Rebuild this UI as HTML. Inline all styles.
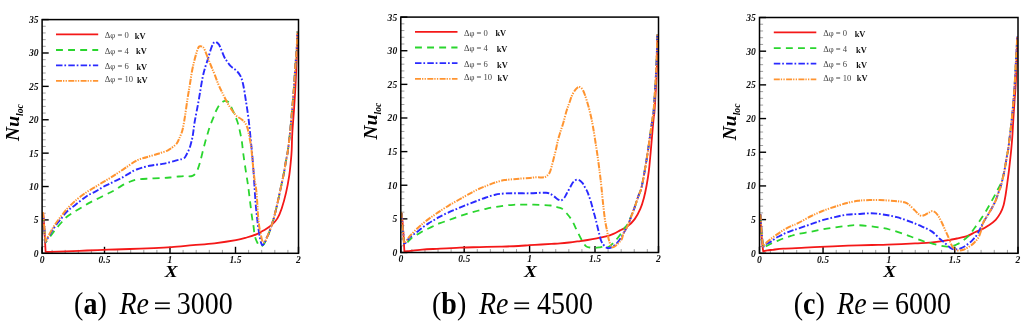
<!DOCTYPE html>
<html><head><meta charset="utf-8"><style>
html,body{margin:0;padding:0;background:#fff;}
body{width:1024px;height:326px;overflow:hidden;}
svg{display:block;filter:blur(0.25px);}
text{font-family:"Liberation Serif",serif;}
.tl{font-size:9.6px;font-weight:bold;font-style:italic;fill:#111;}
.lg{font-size:8.6px;fill:#444;}
.kv{font-size:8.4px;font-weight:bold;fill:#111;}
.yl{font-size:19.5px;font-weight:bold;font-style:italic;fill:#000;}
.sub{font-size:9.6px;}
.xl{font-size:16.5px;font-weight:bold;font-style:italic;fill:#000;}
.cap{font-size:28px;fill:#000;}
</style></head><body>
<svg width="1024" height="326" viewBox="0 0 1024 326">
<rect width="1024" height="326" fill="#fff"/>
<line x1="42.10" y1="246.62" x2="45.70" y2="246.62" stroke="#888" stroke-width="0.8"/>
<line x1="42.10" y1="239.95" x2="45.70" y2="239.95" stroke="#888" stroke-width="0.8"/>
<line x1="42.10" y1="233.27" x2="45.70" y2="233.27" stroke="#888" stroke-width="0.8"/>
<line x1="42.10" y1="226.59" x2="45.70" y2="226.59" stroke="#888" stroke-width="0.8"/>
<line x1="42.10" y1="213.24" x2="45.70" y2="213.24" stroke="#888" stroke-width="0.8"/>
<line x1="42.10" y1="206.56" x2="45.70" y2="206.56" stroke="#888" stroke-width="0.8"/>
<line x1="42.10" y1="199.88" x2="45.70" y2="199.88" stroke="#888" stroke-width="0.8"/>
<line x1="42.10" y1="193.21" x2="45.70" y2="193.21" stroke="#888" stroke-width="0.8"/>
<line x1="42.10" y1="179.85" x2="45.70" y2="179.85" stroke="#888" stroke-width="0.8"/>
<line x1="42.10" y1="173.17" x2="45.70" y2="173.17" stroke="#888" stroke-width="0.8"/>
<line x1="42.10" y1="166.50" x2="45.70" y2="166.50" stroke="#888" stroke-width="0.8"/>
<line x1="42.10" y1="159.82" x2="45.70" y2="159.82" stroke="#888" stroke-width="0.8"/>
<line x1="42.10" y1="146.47" x2="45.70" y2="146.47" stroke="#888" stroke-width="0.8"/>
<line x1="42.10" y1="139.79" x2="45.70" y2="139.79" stroke="#888" stroke-width="0.8"/>
<line x1="42.10" y1="133.11" x2="45.70" y2="133.11" stroke="#888" stroke-width="0.8"/>
<line x1="42.10" y1="126.43" x2="45.70" y2="126.43" stroke="#888" stroke-width="0.8"/>
<line x1="42.10" y1="113.08" x2="45.70" y2="113.08" stroke="#888" stroke-width="0.8"/>
<line x1="42.10" y1="106.40" x2="45.70" y2="106.40" stroke="#888" stroke-width="0.8"/>
<line x1="42.10" y1="99.73" x2="45.70" y2="99.73" stroke="#888" stroke-width="0.8"/>
<line x1="42.10" y1="93.05" x2="45.70" y2="93.05" stroke="#888" stroke-width="0.8"/>
<line x1="42.10" y1="79.69" x2="45.70" y2="79.69" stroke="#888" stroke-width="0.8"/>
<line x1="42.10" y1="73.02" x2="45.70" y2="73.02" stroke="#888" stroke-width="0.8"/>
<line x1="42.10" y1="66.34" x2="45.70" y2="66.34" stroke="#888" stroke-width="0.8"/>
<line x1="42.10" y1="59.66" x2="45.70" y2="59.66" stroke="#888" stroke-width="0.8"/>
<line x1="42.10" y1="46.31" x2="45.70" y2="46.31" stroke="#888" stroke-width="0.8"/>
<line x1="42.10" y1="39.63" x2="45.70" y2="39.63" stroke="#888" stroke-width="0.8"/>
<line x1="42.10" y1="32.95" x2="45.70" y2="32.95" stroke="#888" stroke-width="0.8"/>
<line x1="42.10" y1="26.28" x2="45.70" y2="26.28" stroke="#888" stroke-width="0.8"/>
<line x1="42.10" y1="253.30" x2="48.70" y2="253.30" stroke="#000" stroke-width="1.4"/>
<text x="38.50" y="256.70" class="tl" text-anchor="end">0</text>
<line x1="42.10" y1="219.91" x2="48.70" y2="219.91" stroke="#000" stroke-width="1.4"/>
<text x="38.50" y="223.31" class="tl" text-anchor="end">5</text>
<line x1="42.10" y1="186.53" x2="48.70" y2="186.53" stroke="#000" stroke-width="1.4"/>
<text x="38.50" y="189.93" class="tl" text-anchor="end">10</text>
<line x1="42.10" y1="153.14" x2="48.70" y2="153.14" stroke="#000" stroke-width="1.4"/>
<text x="38.50" y="156.54" class="tl" text-anchor="end">15</text>
<line x1="42.10" y1="119.76" x2="48.70" y2="119.76" stroke="#000" stroke-width="1.4"/>
<text x="38.50" y="123.16" class="tl" text-anchor="end">20</text>
<line x1="42.10" y1="86.37" x2="48.70" y2="86.37" stroke="#000" stroke-width="1.4"/>
<text x="38.50" y="89.77" class="tl" text-anchor="end">25</text>
<line x1="42.10" y1="52.99" x2="48.70" y2="52.99" stroke="#000" stroke-width="1.4"/>
<text x="38.50" y="56.39" class="tl" text-anchor="end">30</text>
<line x1="42.10" y1="19.60" x2="48.70" y2="19.60" stroke="#000" stroke-width="1.4"/>
<text x="38.50" y="23.00" class="tl" text-anchor="end">35</text>
<line x1="42.10" y1="253.30" x2="42.10" y2="246.80" stroke="#000" stroke-width="1.4"/>
<text x="42.10" y="262.80" class="tl" text-anchor="middle">0</text>
<line x1="52.10" y1="253.30" x2="52.10" y2="249.90" stroke="#888" stroke-width="0.8"/>
<line x1="65.20" y1="253.30" x2="65.20" y2="249.90" stroke="#888" stroke-width="0.8"/>
<line x1="78.30" y1="253.30" x2="78.30" y2="249.90" stroke="#888" stroke-width="0.8"/>
<line x1="91.40" y1="253.30" x2="91.40" y2="249.90" stroke="#888" stroke-width="0.8"/>
<line x1="104.50" y1="253.30" x2="104.50" y2="246.80" stroke="#000" stroke-width="1.4"/>
<text x="104.50" y="262.80" class="tl" text-anchor="middle">0.5</text>
<line x1="117.60" y1="253.30" x2="117.60" y2="249.90" stroke="#888" stroke-width="0.8"/>
<line x1="130.70" y1="253.30" x2="130.70" y2="249.90" stroke="#888" stroke-width="0.8"/>
<line x1="143.80" y1="253.30" x2="143.80" y2="249.90" stroke="#888" stroke-width="0.8"/>
<line x1="156.90" y1="253.30" x2="156.90" y2="249.90" stroke="#888" stroke-width="0.8"/>
<line x1="170.00" y1="253.30" x2="170.00" y2="246.80" stroke="#000" stroke-width="1.4"/>
<text x="170.00" y="262.80" class="tl" text-anchor="middle">1</text>
<line x1="183.10" y1="253.30" x2="183.10" y2="249.90" stroke="#888" stroke-width="0.8"/>
<line x1="196.20" y1="253.30" x2="196.20" y2="249.90" stroke="#888" stroke-width="0.8"/>
<line x1="209.30" y1="253.30" x2="209.30" y2="249.90" stroke="#888" stroke-width="0.8"/>
<line x1="222.40" y1="253.30" x2="222.40" y2="249.90" stroke="#888" stroke-width="0.8"/>
<line x1="235.50" y1="253.30" x2="235.50" y2="246.80" stroke="#000" stroke-width="1.4"/>
<text x="235.50" y="262.80" class="tl" text-anchor="middle">1.5</text>
<line x1="248.60" y1="253.30" x2="248.60" y2="249.90" stroke="#888" stroke-width="0.8"/>
<line x1="261.70" y1="253.30" x2="261.70" y2="249.90" stroke="#888" stroke-width="0.8"/>
<line x1="274.80" y1="253.30" x2="274.80" y2="249.90" stroke="#888" stroke-width="0.8"/>
<line x1="287.90" y1="253.30" x2="287.90" y2="249.90" stroke="#888" stroke-width="0.8"/>
<line x1="298.50" y1="253.30" x2="298.50" y2="246.80" stroke="#000" stroke-width="1.4"/>
<text x="298.50" y="262.80" class="tl" text-anchor="middle">2</text>
<clipPath id="clipa"><rect x="42.10" y="19.60" width="256.40" height="233.70"/></clipPath>
<g clip-path="url(#clipa)" fill="none" stroke-linejoin="round">
<path d="M43.30,213.50 C43.48,216.25 44.02,223.62 44.40,230.00 C44.78,236.38 45.40,248.17 45.60,251.80 C46.33,251.82 46.68,251.97 50.00,251.90 C53.32,251.83 59.33,251.63 65.50,251.40 C71.67,251.17 79.85,250.78 87.00,250.50 C94.15,250.22 101.25,249.95 108.40,249.70 C115.55,249.45 122.30,249.27 129.90,249.00 C137.50,248.73 147.07,248.42 154.00,248.10 C160.93,247.78 165.00,247.58 171.50,247.10 C178.00,246.62 185.85,245.83 193.00,245.20 C200.15,244.57 207.25,244.13 214.40,243.30 C221.55,242.47 230.52,241.17 235.90,240.20 C241.28,239.23 243.12,238.57 246.70,237.50 C250.28,236.43 254.52,235.02 257.40,233.80 C260.28,232.58 261.65,231.63 264.00,230.20 C266.35,228.77 269.27,227.17 271.50,225.20 C273.73,223.23 275.70,221.18 277.40,218.40 C279.10,215.62 280.27,212.75 281.70,208.50 C283.13,204.25 284.75,198.35 286.00,192.90 C287.25,187.45 288.38,181.17 289.20,175.80 C290.02,170.43 290.48,165.00 290.90,160.70 C291.32,156.40 291.47,154.63 291.70,150.00 C291.93,145.37 291.92,139.58 292.30,132.90 C292.68,126.22 293.50,117.18 294.00,109.90 C294.50,102.62 294.93,95.85 295.30,89.20 C295.67,82.55 295.92,76.53 296.20,70.00 C296.48,63.47 296.77,56.17 297.00,50.00 C297.23,43.83 297.50,35.83 297.60,33.00" stroke="#f41818" stroke-width="1.80"/>
<path d="M42.80,214.00 C43.27,218.75 45.13,237.75 45.60,242.50 C46.23,241.67 48.10,239.22 49.40,237.50 C50.70,235.78 52.05,233.95 53.40,232.20 C54.75,230.45 56.08,228.70 57.50,227.00 C58.92,225.30 60.48,223.58 61.90,222.00 C63.32,220.42 64.57,218.80 66.00,217.50 C67.43,216.20 69.00,215.22 70.50,214.20 C72.00,213.18 73.10,212.57 75.00,211.40 C76.90,210.23 79.60,208.58 81.90,207.20 C84.20,205.82 86.50,204.35 88.80,203.10 C91.10,201.85 93.40,200.85 95.70,199.70 C98.00,198.55 100.30,197.35 102.60,196.20 C104.90,195.05 107.43,193.83 109.50,192.80 C111.57,191.77 112.95,191.20 115.00,190.00 C117.05,188.80 119.55,186.88 121.80,185.60 C124.05,184.32 126.03,183.30 128.50,182.30 C130.97,181.30 133.10,180.22 136.60,179.60 C140.10,178.98 145.22,178.85 149.50,178.60 C153.78,178.35 158.88,178.28 162.30,178.10 C165.72,177.92 167.28,177.77 170.00,177.50 C172.72,177.23 175.90,176.77 178.60,176.50 C181.30,176.23 184.40,175.93 186.20,175.90 C188.00,175.87 188.35,176.32 189.40,176.30 C190.45,176.28 191.55,176.20 192.50,175.80 C193.45,175.40 194.25,174.92 195.10,173.90 C195.95,172.88 196.77,171.67 197.60,169.70 C198.43,167.73 199.27,165.05 200.10,162.10 C200.93,159.15 201.75,155.37 202.60,152.00 C203.45,148.63 204.35,145.00 205.20,141.90 C206.05,138.80 206.87,136.12 207.70,133.40 C208.53,130.68 209.22,128.32 210.20,125.60 C211.18,122.88 212.63,119.53 213.60,117.10 C214.57,114.67 215.08,112.95 216.00,111.00 C216.92,109.05 217.97,106.95 219.10,105.40 C220.23,103.85 221.73,102.45 222.80,101.70 C223.87,100.95 224.48,100.78 225.50,100.90 C226.52,101.02 227.93,101.38 228.90,102.40 C229.87,103.42 230.35,104.93 231.30,107.00 C232.25,109.07 233.65,112.55 234.60,114.80 C235.55,117.05 236.30,118.55 237.00,120.50 C237.70,122.45 238.25,124.37 238.80,126.50 C239.35,128.63 239.80,130.88 240.30,133.30 C240.80,135.72 241.28,137.47 241.80,141.00 C242.32,144.53 242.68,149.18 243.40,154.50 C244.12,159.82 245.33,167.82 246.10,172.90 C246.87,177.98 247.35,180.32 248.00,185.00 C248.65,189.68 249.33,195.67 250.00,201.00 C250.67,206.33 251.42,212.83 252.00,217.00 C252.58,221.17 253.03,222.83 253.50,226.00 C253.97,229.17 254.13,233.17 254.80,236.00 C255.47,238.83 256.55,241.25 257.50,243.00 C258.45,244.75 259.67,246.08 260.50,246.50 C261.33,246.92 261.83,246.05 262.50,245.50 C263.17,244.95 263.83,244.20 264.50,243.20 C265.17,242.20 265.83,240.95 266.50,239.50 C267.17,238.05 267.85,236.25 268.50,234.50 C269.15,232.75 269.73,231.00 270.40,229.00 C271.07,227.00 271.85,224.62 272.50,222.50 C273.15,220.38 273.48,219.45 274.30,216.30 C275.12,213.15 276.35,208.22 277.40,203.60 C278.45,198.98 279.53,193.60 280.60,188.60 C281.67,183.60 282.90,178.25 283.80,173.60 C284.70,168.95 285.35,164.30 286.00,160.70 C286.65,157.10 287.03,156.63 287.70,152.00 C288.37,147.37 289.23,140.30 290.00,132.90 C290.77,125.50 291.63,115.27 292.30,107.60 C292.97,99.93 293.48,94.00 294.00,86.90 C294.52,79.80 294.97,71.15 295.40,65.00 C295.83,58.85 296.25,55.58 296.60,50.00 C296.95,44.42 297.35,34.58 297.50,31.50" stroke="#2ad52e" stroke-width="1.80" stroke-dasharray="6.9 5.2"/>
<path d="M42.80,213.00 C43.25,217.83 45.05,237.17 45.50,242.00 C46.13,240.92 47.98,237.70 49.30,235.50 C50.62,233.30 52.03,230.88 53.40,228.80 C54.77,226.72 56.08,224.83 57.50,223.00 C58.92,221.17 60.48,219.55 61.90,217.80 C63.32,216.05 64.60,214.03 66.00,212.50 C67.40,210.97 68.80,209.82 70.30,208.60 C71.80,207.38 73.07,206.68 75.00,205.20 C76.93,203.72 79.60,201.43 81.90,199.70 C84.20,197.97 86.50,196.18 88.80,194.80 C91.10,193.42 93.40,192.67 95.70,191.40 C98.00,190.13 100.30,188.47 102.60,187.20 C104.90,185.93 107.43,184.83 109.50,183.80 C111.57,182.77 112.95,182.00 115.00,181.00 C117.05,180.00 119.55,179.00 121.80,177.80 C124.05,176.60 126.03,175.18 128.50,173.80 C130.97,172.42 133.10,170.83 136.60,169.50 C140.10,168.17 145.22,166.73 149.50,165.80 C153.78,164.87 158.88,164.50 162.30,163.90 C165.72,163.30 167.63,162.78 170.00,162.20 C172.37,161.62 174.52,160.93 176.50,160.40 C178.48,159.87 180.53,159.47 181.90,159.00 C183.27,158.53 183.90,158.40 184.70,157.60 C185.50,156.80 186.02,155.47 186.70,154.20 C187.38,152.93 188.17,151.50 188.80,150.00 C189.43,148.50 189.98,146.92 190.50,145.20 C191.02,143.48 191.48,141.55 191.90,139.70 C192.32,137.85 192.53,137.10 193.00,134.10 C193.47,131.10 193.80,127.03 194.70,121.70 C195.60,116.37 197.10,109.38 198.40,102.10 C199.70,94.82 201.32,83.97 202.50,78.00 C203.68,72.03 204.58,69.48 205.50,66.30 C206.42,63.12 207.17,61.57 208.00,58.90 C208.83,56.23 209.68,52.77 210.50,50.30 C211.32,47.83 212.18,45.50 212.90,44.10 C213.62,42.70 214.18,42.20 214.80,41.90 C215.42,41.60 215.88,41.82 216.60,42.30 C217.32,42.78 218.23,43.35 219.10,44.80 C219.97,46.25 220.90,48.88 221.80,51.00 C222.70,53.12 223.70,55.88 224.50,57.50 C225.30,59.12 225.57,59.25 226.60,60.70 C227.63,62.15 229.10,64.58 230.70,66.20 C232.30,67.82 234.58,68.78 236.20,70.40 C237.82,72.02 239.25,73.60 240.40,75.90 C241.55,78.20 242.18,80.05 243.10,84.20 C244.02,88.35 244.97,94.82 245.90,100.80 C246.83,106.78 247.90,113.62 248.70,120.10 C249.50,126.58 250.12,133.97 250.70,139.70 C251.28,145.43 251.73,149.28 252.20,154.50 C252.67,159.72 253.13,165.92 253.50,171.00 C253.87,176.08 254.05,179.67 254.40,185.00 C254.75,190.33 255.17,197.65 255.60,203.00 C256.03,208.35 256.60,213.32 257.00,217.10 C257.40,220.88 257.55,222.47 258.00,225.70 C258.45,228.93 259.15,233.55 259.70,236.50 C260.25,239.45 260.77,241.98 261.30,243.40 C261.83,244.82 262.28,245.27 262.90,245.00 C263.52,244.73 264.32,243.13 265.00,241.80 C265.68,240.47 266.42,238.27 267.00,237.00 C267.58,235.73 267.93,235.53 268.50,234.20 C269.07,232.87 269.73,230.95 270.40,229.00 C271.07,227.05 271.85,224.62 272.50,222.50 C273.15,220.38 273.48,219.45 274.30,216.30 C275.12,213.15 276.35,208.22 277.40,203.60 C278.45,198.98 279.53,193.60 280.60,188.60 C281.67,183.60 282.90,178.25 283.80,173.60 C284.70,168.95 285.35,164.30 286.00,160.70 C286.65,157.10 287.03,156.63 287.70,152.00 C288.37,147.37 289.23,140.30 290.00,132.90 C290.77,125.50 291.63,115.27 292.30,107.60 C292.97,99.93 293.48,94.00 294.00,86.90 C294.52,79.80 294.97,71.15 295.40,65.00 C295.83,58.85 296.25,55.58 296.60,50.00 C296.95,44.42 297.35,34.58 297.50,31.50" stroke="#2a2aff" stroke-width="1.90" stroke-dasharray="6.5 1.9 1.7 2.2"/>
<path d="M42.80,212.00 C43.27,216.92 45.13,236.58 45.60,241.50 C46.20,240.33 47.90,236.90 49.20,234.50 C50.50,232.10 52.02,229.35 53.40,227.10 C54.78,224.85 56.08,222.97 57.50,221.00 C58.92,219.03 60.48,217.13 61.90,215.30 C63.32,213.47 64.60,211.62 66.00,210.00 C67.40,208.38 68.80,207.10 70.30,205.60 C71.80,204.10 73.07,202.68 75.00,201.00 C76.93,199.32 79.60,197.22 81.90,195.50 C84.20,193.78 86.50,192.18 88.80,190.70 C91.10,189.22 93.40,187.98 95.70,186.60 C98.00,185.22 100.30,183.78 102.60,182.40 C104.90,181.02 107.43,179.57 109.50,178.30 C111.57,177.03 112.42,176.48 115.00,174.80 C117.58,173.12 121.40,170.58 125.00,168.20 C128.60,165.82 133.02,162.33 136.60,160.50 C140.18,158.67 143.07,158.28 146.50,157.20 C149.93,156.12 153.63,155.15 157.20,154.00 C160.77,152.85 164.87,151.83 167.90,150.30 C170.93,148.77 173.75,146.23 175.40,144.80 C177.05,143.37 176.95,143.25 177.80,141.70 C178.65,140.15 179.70,137.53 180.50,135.50 C181.30,133.47 181.87,132.62 182.60,129.50 C183.33,126.38 184.10,121.78 184.90,116.80 C185.70,111.82 186.58,104.92 187.40,99.60 C188.22,94.28 189.03,89.63 189.80,84.90 C190.57,80.17 191.22,75.33 192.00,71.20 C192.78,67.07 193.68,63.38 194.50,60.10 C195.32,56.82 196.18,53.72 196.90,51.50 C197.62,49.28 198.18,47.68 198.80,46.80 C199.42,45.92 199.88,46.13 200.60,46.20 C201.32,46.27 202.38,46.52 203.10,47.20 C203.82,47.88 204.28,48.97 204.90,50.30 C205.52,51.63 206.08,53.35 206.80,55.20 C207.52,57.05 208.38,59.35 209.20,61.40 C210.02,63.45 210.77,65.25 211.70,67.50 C212.63,69.75 213.70,72.12 214.80,74.90 C215.90,77.68 217.27,81.68 218.30,84.20 C219.33,86.72 220.15,88.20 221.00,90.00 C221.85,91.80 222.38,92.93 223.40,95.00 C224.42,97.07 225.87,100.15 227.10,102.40 C228.33,104.65 229.58,106.65 230.80,108.50 C232.02,110.35 233.33,112.17 234.40,113.50 C235.47,114.83 235.97,115.50 237.20,116.50 C238.43,117.50 240.52,118.48 241.80,119.50 C243.08,120.52 244.00,121.32 244.90,122.60 C245.80,123.88 246.57,125.42 247.20,127.20 C247.83,128.98 248.20,131.00 248.70,133.30 C249.20,135.60 249.73,138.22 250.20,141.00 C250.67,143.78 251.10,146.53 251.50,150.00 C251.90,153.47 252.12,157.07 252.60,161.80 C253.08,166.53 253.90,174.53 254.40,178.40 C254.90,182.27 255.20,182.07 255.60,185.00 C256.00,187.93 256.40,191.00 256.80,196.00 C257.20,201.00 257.62,210.05 258.00,215.00 C258.38,219.95 258.65,222.48 259.10,225.70 C259.55,228.92 260.17,231.78 260.70,234.30 C261.23,236.82 261.75,239.52 262.30,240.80 C262.85,242.08 263.37,242.18 264.00,242.00 C264.63,241.82 265.40,240.98 266.10,239.70 C266.80,238.42 267.48,236.08 268.20,234.30 C268.92,232.52 269.68,230.97 270.40,229.00 C271.12,227.03 271.85,224.62 272.50,222.50 C273.15,220.38 273.48,219.45 274.30,216.30 C275.12,213.15 276.35,208.22 277.40,203.60 C278.45,198.98 279.53,193.60 280.60,188.60 C281.67,183.60 282.90,178.25 283.80,173.60 C284.70,168.95 285.35,164.30 286.00,160.70 C286.65,157.10 287.03,156.63 287.70,152.00 C288.37,147.37 289.23,140.30 290.00,132.90 C290.77,125.50 291.63,115.27 292.30,107.60 C292.97,99.93 293.48,94.00 294.00,86.90 C294.52,79.80 294.97,71.15 295.40,65.00 C295.83,58.85 296.25,55.58 296.60,50.00 C296.95,44.42 297.35,34.58 297.50,31.50" stroke="#ff9430" stroke-width="2.00" stroke-dasharray="6 1 1.3 1.3 1.3 1.4"/>
</g>
<rect x="42.10" y="19.60" width="256.40" height="233.70" fill="none" stroke="#000" stroke-width="1.5"/>
<line x1="56.00" y1="34.30" x2="98.20" y2="34.30" stroke="#f41818" stroke-width="1.80"/>
<text x="104.80" y="38.00" class="lg">&#916;&#966; = 0</text>
<text x="134.80" y="38.70" class="kv">kV</text>
<line x1="56.00" y1="50.00" x2="98.20" y2="50.00" stroke="#2ad52e" stroke-width="1.80" stroke-dasharray="6.9 5.2"/>
<text x="104.80" y="53.70" class="lg">&#916;&#966; = 4</text>
<text x="136.10" y="54.40" class="kv">kV</text>
<line x1="56.00" y1="65.40" x2="98.20" y2="65.40" stroke="#2a2aff" stroke-width="1.80" stroke-dasharray="6.5 1.9 1.7 2.2"/>
<text x="104.80" y="69.10" class="lg">&#916;&#966; = 6</text>
<text x="136.40" y="69.80" class="kv">kV</text>
<line x1="56.00" y1="80.90" x2="98.20" y2="80.90" stroke="#ff9430" stroke-width="1.80" stroke-dasharray="6 1 1.3 1.3 1.3 1.4"/>
<text x="104.80" y="82.30" class="lg">&#916;&#966; = 10</text>
<text x="136.90" y="83.00" class="kv">kV</text>
<text transform="translate(19.20,122.60) rotate(-90)" class="yl" text-anchor="middle">Nu<tspan class="sub" dy="3.6">loc</tspan></text>
<text transform="translate(171.20,276.9) scale(1.17,1)" class="xl" text-anchor="middle">X</text>
<g transform="translate(0,313.8) scale(1,1.100)">
<text x="74.10" y="0" class="cap">(<tspan font-weight="bold">a</tspan>)</text>
<text x="119.40" y="0" class="cap" font-style="italic">Re</text>
<text x="176.80" y="0" class="cap">3000</text>
</g>
<rect x="155.00" y="302.4" width="14.8" height="1.5" fill="#000"/>
<rect x="155.00" y="307.7" width="14.8" height="1.5" fill="#000"/>
<line x1="400.80" y1="245.77" x2="404.40" y2="245.77" stroke="#888" stroke-width="0.8"/>
<line x1="400.80" y1="239.05" x2="404.40" y2="239.05" stroke="#888" stroke-width="0.8"/>
<line x1="400.80" y1="232.32" x2="404.40" y2="232.32" stroke="#888" stroke-width="0.8"/>
<line x1="400.80" y1="225.60" x2="404.40" y2="225.60" stroke="#888" stroke-width="0.8"/>
<line x1="400.80" y1="212.15" x2="404.40" y2="212.15" stroke="#888" stroke-width="0.8"/>
<line x1="400.80" y1="205.42" x2="404.40" y2="205.42" stroke="#888" stroke-width="0.8"/>
<line x1="400.80" y1="198.69" x2="404.40" y2="198.69" stroke="#888" stroke-width="0.8"/>
<line x1="400.80" y1="191.97" x2="404.40" y2="191.97" stroke="#888" stroke-width="0.8"/>
<line x1="400.80" y1="178.52" x2="404.40" y2="178.52" stroke="#888" stroke-width="0.8"/>
<line x1="400.80" y1="171.79" x2="404.40" y2="171.79" stroke="#888" stroke-width="0.8"/>
<line x1="400.80" y1="165.07" x2="404.40" y2="165.07" stroke="#888" stroke-width="0.8"/>
<line x1="400.80" y1="158.34" x2="404.40" y2="158.34" stroke="#888" stroke-width="0.8"/>
<line x1="400.80" y1="144.89" x2="404.40" y2="144.89" stroke="#888" stroke-width="0.8"/>
<line x1="400.80" y1="138.16" x2="404.40" y2="138.16" stroke="#888" stroke-width="0.8"/>
<line x1="400.80" y1="131.44" x2="404.40" y2="131.44" stroke="#888" stroke-width="0.8"/>
<line x1="400.80" y1="124.71" x2="404.40" y2="124.71" stroke="#888" stroke-width="0.8"/>
<line x1="400.80" y1="111.26" x2="404.40" y2="111.26" stroke="#888" stroke-width="0.8"/>
<line x1="400.80" y1="104.53" x2="404.40" y2="104.53" stroke="#888" stroke-width="0.8"/>
<line x1="400.80" y1="97.81" x2="404.40" y2="97.81" stroke="#888" stroke-width="0.8"/>
<line x1="400.80" y1="91.08" x2="404.40" y2="91.08" stroke="#888" stroke-width="0.8"/>
<line x1="400.80" y1="77.63" x2="404.40" y2="77.63" stroke="#888" stroke-width="0.8"/>
<line x1="400.80" y1="70.91" x2="404.40" y2="70.91" stroke="#888" stroke-width="0.8"/>
<line x1="400.80" y1="64.18" x2="404.40" y2="64.18" stroke="#888" stroke-width="0.8"/>
<line x1="400.80" y1="57.45" x2="404.40" y2="57.45" stroke="#888" stroke-width="0.8"/>
<line x1="400.80" y1="44.00" x2="404.40" y2="44.00" stroke="#888" stroke-width="0.8"/>
<line x1="400.80" y1="37.28" x2="404.40" y2="37.28" stroke="#888" stroke-width="0.8"/>
<line x1="400.80" y1="30.55" x2="404.40" y2="30.55" stroke="#888" stroke-width="0.8"/>
<line x1="400.80" y1="23.83" x2="404.40" y2="23.83" stroke="#888" stroke-width="0.8"/>
<line x1="400.80" y1="252.50" x2="407.40" y2="252.50" stroke="#000" stroke-width="1.4"/>
<text x="397.20" y="255.90" class="tl" text-anchor="end">0</text>
<line x1="400.80" y1="218.87" x2="407.40" y2="218.87" stroke="#000" stroke-width="1.4"/>
<text x="397.20" y="222.27" class="tl" text-anchor="end">5</text>
<line x1="400.80" y1="185.24" x2="407.40" y2="185.24" stroke="#000" stroke-width="1.4"/>
<text x="397.20" y="188.64" class="tl" text-anchor="end">10</text>
<line x1="400.80" y1="151.61" x2="407.40" y2="151.61" stroke="#000" stroke-width="1.4"/>
<text x="397.20" y="155.01" class="tl" text-anchor="end">15</text>
<line x1="400.80" y1="117.99" x2="407.40" y2="117.99" stroke="#000" stroke-width="1.4"/>
<text x="397.20" y="121.39" class="tl" text-anchor="end">20</text>
<line x1="400.80" y1="84.36" x2="407.40" y2="84.36" stroke="#000" stroke-width="1.4"/>
<text x="397.20" y="87.76" class="tl" text-anchor="end">25</text>
<line x1="400.80" y1="50.73" x2="407.40" y2="50.73" stroke="#000" stroke-width="1.4"/>
<text x="397.20" y="54.13" class="tl" text-anchor="end">30</text>
<line x1="400.80" y1="17.10" x2="407.40" y2="17.10" stroke="#000" stroke-width="1.4"/>
<text x="397.20" y="20.50" class="tl" text-anchor="end">35</text>
<line x1="400.80" y1="252.50" x2="400.80" y2="246.00" stroke="#000" stroke-width="1.4"/>
<text x="400.80" y="262.00" class="tl" text-anchor="middle">0</text>
<line x1="411.88" y1="252.50" x2="411.88" y2="249.10" stroke="#888" stroke-width="0.8"/>
<line x1="424.96" y1="252.50" x2="424.96" y2="249.10" stroke="#888" stroke-width="0.8"/>
<line x1="438.04" y1="252.50" x2="438.04" y2="249.10" stroke="#888" stroke-width="0.8"/>
<line x1="451.12" y1="252.50" x2="451.12" y2="249.10" stroke="#888" stroke-width="0.8"/>
<line x1="464.20" y1="252.50" x2="464.20" y2="246.00" stroke="#000" stroke-width="1.4"/>
<text x="464.20" y="262.00" class="tl" text-anchor="middle">0.5</text>
<line x1="477.28" y1="252.50" x2="477.28" y2="249.10" stroke="#888" stroke-width="0.8"/>
<line x1="490.36" y1="252.50" x2="490.36" y2="249.10" stroke="#888" stroke-width="0.8"/>
<line x1="503.44" y1="252.50" x2="503.44" y2="249.10" stroke="#888" stroke-width="0.8"/>
<line x1="516.52" y1="252.50" x2="516.52" y2="249.10" stroke="#888" stroke-width="0.8"/>
<line x1="529.60" y1="252.50" x2="529.60" y2="246.00" stroke="#000" stroke-width="1.4"/>
<text x="529.60" y="262.00" class="tl" text-anchor="middle">1</text>
<line x1="542.68" y1="252.50" x2="542.68" y2="249.10" stroke="#888" stroke-width="0.8"/>
<line x1="555.76" y1="252.50" x2="555.76" y2="249.10" stroke="#888" stroke-width="0.8"/>
<line x1="568.84" y1="252.50" x2="568.84" y2="249.10" stroke="#888" stroke-width="0.8"/>
<line x1="581.92" y1="252.50" x2="581.92" y2="249.10" stroke="#888" stroke-width="0.8"/>
<line x1="595.00" y1="252.50" x2="595.00" y2="246.00" stroke="#000" stroke-width="1.4"/>
<text x="595.00" y="262.00" class="tl" text-anchor="middle">1.5</text>
<line x1="608.08" y1="252.50" x2="608.08" y2="249.10" stroke="#888" stroke-width="0.8"/>
<line x1="621.16" y1="252.50" x2="621.16" y2="249.10" stroke="#888" stroke-width="0.8"/>
<line x1="634.24" y1="252.50" x2="634.24" y2="249.10" stroke="#888" stroke-width="0.8"/>
<line x1="647.32" y1="252.50" x2="647.32" y2="249.10" stroke="#888" stroke-width="0.8"/>
<line x1="658.50" y1="252.50" x2="658.50" y2="246.00" stroke="#000" stroke-width="1.4"/>
<text x="658.50" y="262.00" class="tl" text-anchor="middle">2</text>
<clipPath id="clipb"><rect x="400.80" y="17.10" width="257.70" height="235.40"/></clipPath>
<g clip-path="url(#clipb)" fill="none" stroke-linejoin="round">
<path d="M401.80,213.50 C402.05,216.58 402.87,225.67 403.30,232.00 C403.73,238.33 404.22,248.25 404.40,251.50 C404.90,251.45 404.45,251.50 407.40,251.20 C410.35,250.90 417.20,250.10 422.10,249.70 C427.00,249.30 430.48,249.15 436.80,248.80 C443.12,248.45 452.80,247.88 460.00,247.60 C467.20,247.32 473.33,247.27 480.00,247.10 C486.67,246.93 493.60,246.78 500.00,246.60 C506.40,246.42 513.50,246.23 518.40,246.00 C523.30,245.77 525.57,245.45 529.40,245.20 C533.23,244.95 537.72,244.72 541.40,244.50 C545.08,244.28 548.40,244.08 551.50,243.90 C554.60,243.72 557.05,243.63 560.00,243.40 C562.95,243.17 566.13,242.85 569.20,242.50 C572.27,242.15 575.33,241.72 578.40,241.30 C581.47,240.88 584.53,240.48 587.60,240.00 C590.67,239.52 593.73,239.00 596.80,238.40 C599.87,237.80 603.23,237.17 606.00,236.40 C608.77,235.63 611.07,234.80 613.40,233.80 C615.73,232.80 617.67,231.63 620.00,230.40 C622.33,229.17 624.95,228.28 627.40,226.40 C629.85,224.52 632.55,222.02 634.70,219.10 C636.85,216.18 638.77,212.43 640.30,208.90 C641.83,205.37 642.87,201.72 643.90,197.90 C644.93,194.08 645.68,190.42 646.50,186.00 C647.32,181.58 648.10,177.10 648.80,171.40 C649.50,165.70 650.13,157.93 650.70,151.80 C651.27,145.67 651.70,140.33 652.20,134.60 C652.70,128.87 653.30,121.50 653.70,117.40 C654.10,113.30 654.08,117.90 654.60,110.00 C655.12,102.10 656.32,82.33 656.80,70.00 C657.28,57.67 657.38,41.67 657.50,36.00" stroke="#f41818" stroke-width="1.80"/>
<path d="M401.60,213.00 C402.03,218.33 403.77,239.67 404.20,245.00 C404.73,244.55 406.02,243.60 407.40,242.30 C408.78,241.00 410.83,238.52 412.50,237.20 C414.17,235.88 415.57,235.47 417.40,234.40 C419.23,233.33 421.57,231.83 423.50,230.80 C425.43,229.77 427.15,229.07 429.00,228.20 C430.85,227.33 432.77,226.43 434.60,225.60 C436.43,224.77 437.58,224.13 440.00,223.20 C442.42,222.27 446.03,221.10 449.10,220.00 C452.17,218.90 455.33,217.67 458.40,216.60 C461.47,215.53 464.43,214.53 467.50,213.60 C470.57,212.67 473.72,211.80 476.80,211.00 C479.88,210.20 482.93,209.47 486.00,208.80 C489.07,208.13 492.12,207.53 495.20,207.00 C498.28,206.47 501.42,205.97 504.50,205.60 C507.58,205.23 510.78,204.97 513.70,204.80 C516.62,204.63 518.67,204.62 522.00,204.60 C525.33,204.58 528.93,204.55 533.70,204.70 C538.47,204.85 546.88,205.13 550.60,205.50 C554.32,205.87 554.15,206.40 556.00,206.90 C557.85,207.40 559.90,207.40 561.70,208.50 C563.50,209.60 565.10,211.53 566.80,213.50 C568.50,215.47 570.22,217.48 571.90,220.30 C573.58,223.12 575.22,227.03 576.90,230.40 C578.58,233.77 580.45,237.83 582.00,240.50 C583.55,243.17 584.87,245.23 586.20,246.40 C587.53,247.57 588.53,247.27 590.00,247.50 C591.47,247.73 593.33,247.83 595.00,247.80 C596.67,247.77 598.43,247.50 600.00,247.30 C601.57,247.10 602.87,246.73 604.40,246.60 C605.93,246.47 607.60,247.25 609.20,246.50 C610.80,245.75 612.55,243.55 614.00,242.10 C615.45,240.65 616.57,239.45 617.90,237.80 C619.23,236.15 620.82,233.92 622.00,232.20 C623.18,230.48 624.10,228.78 625.00,227.50 C625.90,226.22 626.40,226.33 627.40,224.50 C628.40,222.67 629.78,219.40 631.00,216.50 C632.22,213.60 633.47,210.52 634.70,207.10 C635.93,203.68 637.28,199.18 638.40,196.00 C639.52,192.82 640.37,192.10 641.40,188.00 C642.43,183.90 643.53,177.43 644.60,171.40 C645.67,165.37 646.87,157.93 647.80,151.80 C648.73,145.67 649.38,140.33 650.20,134.60 C651.02,128.87 652.12,121.50 652.70,117.40 C653.28,113.30 653.12,117.90 653.70,110.00 C654.28,102.10 655.58,82.58 656.20,70.00 C656.82,57.42 657.20,40.42 657.40,34.50" stroke="#2ad52e" stroke-width="1.80" stroke-dasharray="6.9 5.2"/>
<path d="M401.60,213.00 C402.03,218.25 403.77,239.25 404.20,244.50 C404.73,243.83 406.43,241.75 407.40,240.50 C408.37,239.25 408.53,238.32 410.00,237.00 C411.47,235.68 414.15,234.15 416.20,232.60 C418.25,231.05 420.25,229.23 422.30,227.70 C424.35,226.17 426.45,224.73 428.50,223.40 C430.55,222.07 432.68,220.83 434.60,219.70 C436.52,218.57 437.58,217.85 440.00,216.60 C442.42,215.35 446.03,213.58 449.10,212.20 C452.17,210.82 455.33,209.58 458.40,208.30 C461.47,207.02 464.43,205.73 467.50,204.50 C470.57,203.27 473.72,202.07 476.80,200.90 C479.88,199.73 482.93,198.53 486.00,197.50 C489.07,196.47 492.12,195.37 495.20,194.70 C498.28,194.03 501.20,193.73 504.50,193.50 C507.80,193.27 510.75,193.33 515.00,193.30 C519.25,193.27 525.83,193.38 530.00,193.30 C534.17,193.22 537.32,192.88 540.00,192.80 C542.68,192.72 544.42,192.65 546.10,192.80 C547.78,192.95 548.78,193.12 550.10,193.70 C551.42,194.28 552.65,195.32 554.00,196.30 C555.35,197.28 556.95,198.93 558.20,199.60 C559.45,200.27 560.45,200.65 561.50,200.30 C562.55,199.95 563.65,198.60 564.50,197.50 C565.35,196.40 565.68,195.35 566.60,193.70 C567.52,192.05 568.87,189.57 570.00,187.60 C571.13,185.63 572.07,183.23 573.40,181.90 C574.73,180.57 576.47,179.38 578.00,179.60 C579.53,179.82 581.35,181.72 582.60,183.20 C583.85,184.68 584.72,187.10 585.50,188.50 C586.28,189.90 586.63,190.10 587.30,191.60 C587.97,193.10 588.82,195.53 589.50,197.50 C590.18,199.47 590.83,201.42 591.40,203.40 C591.97,205.38 592.37,207.42 592.90,209.40 C593.43,211.38 594.02,213.15 594.60,215.30 C595.18,217.45 595.83,220.02 596.40,222.30 C596.97,224.58 597.47,226.82 598.00,229.00 C598.53,231.18 599.07,233.40 599.60,235.40 C600.13,237.40 600.53,239.42 601.20,241.00 C601.87,242.58 602.80,243.85 603.60,244.90 C604.40,245.95 605.07,246.77 606.00,247.30 C606.93,247.83 608.13,248.17 609.20,248.10 C610.27,248.03 611.35,247.50 612.40,246.90 C613.45,246.30 614.45,245.48 615.50,244.50 C616.55,243.52 617.62,242.38 618.70,241.00 C619.78,239.62 621.17,237.55 622.00,236.20 C622.83,234.85 622.80,234.53 623.70,232.90 C624.60,231.27 626.18,229.02 627.40,226.40 C628.62,223.78 629.78,220.42 631.00,217.20 C632.22,213.98 633.47,210.63 634.70,207.10 C635.93,203.57 637.28,199.18 638.40,196.00 C639.52,192.82 640.37,192.10 641.40,188.00 C642.43,183.90 643.53,177.43 644.60,171.40 C645.67,165.37 646.87,157.93 647.80,151.80 C648.73,145.67 649.38,140.33 650.20,134.60 C651.02,128.87 652.12,121.50 652.70,117.40 C653.28,113.30 653.12,117.90 653.70,110.00 C654.28,102.10 655.58,82.58 656.20,70.00 C656.82,57.42 657.20,40.42 657.40,34.50" stroke="#2a2aff" stroke-width="1.90" stroke-dasharray="6.5 1.9 1.7 2.2"/>
<path d="M401.40,212.40 C401.83,217.50 403.57,237.90 404.00,243.00 C404.57,242.40 406.40,240.58 407.40,239.40 C408.40,238.22 408.53,237.55 410.00,235.90 C411.47,234.25 414.15,231.48 416.20,229.50 C418.25,227.52 420.25,225.73 422.30,224.00 C424.35,222.27 426.45,220.63 428.50,219.10 C430.55,217.57 432.68,216.13 434.60,214.80 C436.52,213.47 437.58,212.68 440.00,211.10 C442.42,209.52 446.03,207.15 449.10,205.30 C452.17,203.45 455.33,201.75 458.40,200.00 C461.47,198.25 464.43,196.48 467.50,194.80 C470.57,193.12 473.72,191.37 476.80,189.90 C479.88,188.43 482.93,187.23 486.00,186.00 C489.07,184.77 492.12,183.48 495.20,182.50 C498.28,181.52 501.42,180.65 504.50,180.10 C507.58,179.55 510.78,179.47 513.70,179.20 C516.62,178.93 519.28,178.72 522.00,178.50 C524.72,178.28 527.67,178.10 530.00,177.90 C532.33,177.70 534.33,177.38 536.00,177.30 C537.67,177.22 538.65,177.40 540.00,177.40 C541.35,177.40 542.95,177.55 544.10,177.30 C545.25,177.05 545.97,176.70 546.90,175.90 C547.83,175.10 548.90,174.12 549.70,172.50 C550.50,170.88 551.02,168.62 551.70,166.20 C552.38,163.78 553.10,160.75 553.80,158.00 C554.50,155.25 555.20,152.70 555.90,149.70 C556.60,146.70 557.20,143.12 558.00,140.00 C558.80,136.88 559.80,133.92 560.70,131.00 C561.60,128.08 562.43,125.83 563.40,122.50 C564.37,119.17 565.48,114.33 566.50,111.00 C567.52,107.67 568.58,105.08 569.50,102.50 C570.42,99.92 570.97,97.68 572.00,95.50 C573.03,93.32 574.47,90.83 575.70,89.40 C576.93,87.97 578.17,86.70 579.40,86.90 C580.63,87.10 581.88,88.35 583.10,90.60 C584.32,92.85 585.48,96.52 586.70,100.40 C587.92,104.28 589.37,109.60 590.40,113.90 C591.43,118.20 592.08,121.68 592.90,126.20 C593.72,130.72 594.50,135.87 595.30,141.00 C596.10,146.13 596.95,151.68 597.70,157.00 C598.45,162.32 599.20,168.10 599.80,172.90 C600.40,177.70 600.77,180.80 601.30,185.80 C601.83,190.80 602.43,197.55 603.00,202.90 C603.57,208.25 604.20,214.13 604.70,217.90 C605.20,221.67 605.58,223.25 606.00,225.50 C606.42,227.75 606.87,229.62 607.20,231.40 C607.53,233.18 607.67,234.60 608.00,236.20 C608.33,237.80 608.73,239.42 609.20,241.00 C609.67,242.58 610.27,244.65 610.80,245.70 C611.33,246.75 611.75,247.17 612.40,247.30 C613.05,247.43 613.85,247.03 614.70,246.50 C615.55,245.97 616.57,245.02 617.50,244.10 C618.43,243.18 619.55,241.92 620.30,241.00 C621.05,240.08 621.43,239.95 622.00,238.60 C622.57,237.25 622.80,234.93 623.70,232.90 C624.60,230.87 626.18,229.02 627.40,226.40 C628.62,223.78 629.78,220.42 631.00,217.20 C632.22,213.98 633.47,210.63 634.70,207.10 C635.93,203.57 637.28,199.18 638.40,196.00 C639.52,192.82 640.37,192.10 641.40,188.00 C642.43,183.90 643.53,177.43 644.60,171.40 C645.67,165.37 646.87,157.93 647.80,151.80 C648.73,145.67 649.38,140.33 650.20,134.60 C651.02,128.87 652.12,121.50 652.70,117.40 C653.28,113.30 653.12,117.90 653.70,110.00 C654.28,102.10 655.58,82.58 656.20,70.00 C656.82,57.42 657.20,40.42 657.40,34.50" stroke="#ff9430" stroke-width="2.00" stroke-dasharray="6 1 1.3 1.3 1.3 1.4"/>
</g>
<rect x="400.80" y="17.10" width="257.70" height="235.40" fill="none" stroke="#000" stroke-width="1.5"/>
<line x1="415.00" y1="31.90" x2="457.50" y2="31.90" stroke="#f41818" stroke-width="1.80"/>
<text x="463.90" y="35.60" class="lg">&#916;&#966; = 0</text>
<text x="495.40" y="36.30" class="kv">kV</text>
<line x1="415.00" y1="47.50" x2="457.50" y2="47.50" stroke="#2ad52e" stroke-width="1.80" stroke-dasharray="6.9 5.2"/>
<text x="463.90" y="51.20" class="lg">&#916;&#966; = 4</text>
<text x="496.70" y="51.90" class="kv">kV</text>
<line x1="415.00" y1="63.10" x2="457.50" y2="63.10" stroke="#2a2aff" stroke-width="1.80" stroke-dasharray="6.5 1.9 1.7 2.2"/>
<text x="463.90" y="66.80" class="lg">&#916;&#966; = 6</text>
<text x="497.00" y="67.50" class="kv">kV</text>
<line x1="415.00" y1="78.80" x2="457.50" y2="78.80" stroke="#ff9430" stroke-width="1.80" stroke-dasharray="6 1 1.3 1.3 1.3 1.4"/>
<text x="463.90" y="80.20" class="lg">&#916;&#966; = 10</text>
<text x="497.50" y="80.90" class="kv">kV</text>
<text transform="translate(377.20,121.10) rotate(-90)" class="yl" text-anchor="middle">Nu<tspan class="sub" dy="3.6">loc</tspan></text>
<text transform="translate(530.55,276.9) scale(1.17,1)" class="xl" text-anchor="middle">X</text>
<g transform="translate(0,313.8) scale(1,1.100)">
<text x="432.00" y="0" class="cap">(<tspan font-weight="bold">b</tspan>)</text>
<text x="478.90" y="0" class="cap" font-style="italic">Re</text>
<text x="536.90" y="0" class="cap">4500</text>
</g>
<rect x="514.30" y="302.4" width="14.8" height="1.5" fill="#000"/>
<rect x="514.30" y="307.7" width="14.8" height="1.5" fill="#000"/>
<line x1="759.50" y1="246.56" x2="763.10" y2="246.56" stroke="#888" stroke-width="0.8"/>
<line x1="759.50" y1="239.83" x2="763.10" y2="239.83" stroke="#888" stroke-width="0.8"/>
<line x1="759.50" y1="233.09" x2="763.10" y2="233.09" stroke="#888" stroke-width="0.8"/>
<line x1="759.50" y1="226.35" x2="763.10" y2="226.35" stroke="#888" stroke-width="0.8"/>
<line x1="759.50" y1="212.88" x2="763.10" y2="212.88" stroke="#888" stroke-width="0.8"/>
<line x1="759.50" y1="206.14" x2="763.10" y2="206.14" stroke="#888" stroke-width="0.8"/>
<line x1="759.50" y1="199.40" x2="763.10" y2="199.40" stroke="#888" stroke-width="0.8"/>
<line x1="759.50" y1="192.67" x2="763.10" y2="192.67" stroke="#888" stroke-width="0.8"/>
<line x1="759.50" y1="179.19" x2="763.10" y2="179.19" stroke="#888" stroke-width="0.8"/>
<line x1="759.50" y1="172.45" x2="763.10" y2="172.45" stroke="#888" stroke-width="0.8"/>
<line x1="759.50" y1="165.72" x2="763.10" y2="165.72" stroke="#888" stroke-width="0.8"/>
<line x1="759.50" y1="158.98" x2="763.10" y2="158.98" stroke="#888" stroke-width="0.8"/>
<line x1="759.50" y1="145.51" x2="763.10" y2="145.51" stroke="#888" stroke-width="0.8"/>
<line x1="759.50" y1="138.77" x2="763.10" y2="138.77" stroke="#888" stroke-width="0.8"/>
<line x1="759.50" y1="132.03" x2="763.10" y2="132.03" stroke="#888" stroke-width="0.8"/>
<line x1="759.50" y1="125.29" x2="763.10" y2="125.29" stroke="#888" stroke-width="0.8"/>
<line x1="759.50" y1="111.82" x2="763.10" y2="111.82" stroke="#888" stroke-width="0.8"/>
<line x1="759.50" y1="105.08" x2="763.10" y2="105.08" stroke="#888" stroke-width="0.8"/>
<line x1="759.50" y1="98.35" x2="763.10" y2="98.35" stroke="#888" stroke-width="0.8"/>
<line x1="759.50" y1="91.61" x2="763.10" y2="91.61" stroke="#888" stroke-width="0.8"/>
<line x1="759.50" y1="78.13" x2="763.10" y2="78.13" stroke="#888" stroke-width="0.8"/>
<line x1="759.50" y1="71.40" x2="763.10" y2="71.40" stroke="#888" stroke-width="0.8"/>
<line x1="759.50" y1="64.66" x2="763.10" y2="64.66" stroke="#888" stroke-width="0.8"/>
<line x1="759.50" y1="57.92" x2="763.10" y2="57.92" stroke="#888" stroke-width="0.8"/>
<line x1="759.50" y1="44.45" x2="763.10" y2="44.45" stroke="#888" stroke-width="0.8"/>
<line x1="759.50" y1="37.71" x2="763.10" y2="37.71" stroke="#888" stroke-width="0.8"/>
<line x1="759.50" y1="30.97" x2="763.10" y2="30.97" stroke="#888" stroke-width="0.8"/>
<line x1="759.50" y1="24.24" x2="763.10" y2="24.24" stroke="#888" stroke-width="0.8"/>
<line x1="759.50" y1="253.30" x2="766.10" y2="253.30" stroke="#000" stroke-width="1.4"/>
<text x="755.90" y="256.70" class="tl" text-anchor="end">0</text>
<line x1="759.50" y1="219.61" x2="766.10" y2="219.61" stroke="#000" stroke-width="1.4"/>
<text x="755.90" y="223.01" class="tl" text-anchor="end">5</text>
<line x1="759.50" y1="185.93" x2="766.10" y2="185.93" stroke="#000" stroke-width="1.4"/>
<text x="755.90" y="189.33" class="tl" text-anchor="end">10</text>
<line x1="759.50" y1="152.24" x2="766.10" y2="152.24" stroke="#000" stroke-width="1.4"/>
<text x="755.90" y="155.64" class="tl" text-anchor="end">15</text>
<line x1="759.50" y1="118.56" x2="766.10" y2="118.56" stroke="#000" stroke-width="1.4"/>
<text x="755.90" y="121.96" class="tl" text-anchor="end">20</text>
<line x1="759.50" y1="84.87" x2="766.10" y2="84.87" stroke="#000" stroke-width="1.4"/>
<text x="755.90" y="88.27" class="tl" text-anchor="end">25</text>
<line x1="759.50" y1="51.19" x2="766.10" y2="51.19" stroke="#000" stroke-width="1.4"/>
<text x="755.90" y="54.59" class="tl" text-anchor="end">30</text>
<line x1="759.50" y1="17.50" x2="766.10" y2="17.50" stroke="#000" stroke-width="1.4"/>
<text x="755.90" y="20.90" class="tl" text-anchor="end">35</text>
<line x1="759.50" y1="253.30" x2="759.50" y2="246.80" stroke="#000" stroke-width="1.4"/>
<text x="759.50" y="262.80" class="tl" text-anchor="middle">0</text>
<line x1="770.37" y1="253.30" x2="770.37" y2="249.90" stroke="#888" stroke-width="0.8"/>
<line x1="783.54" y1="253.30" x2="783.54" y2="249.90" stroke="#888" stroke-width="0.8"/>
<line x1="796.71" y1="253.30" x2="796.71" y2="249.90" stroke="#888" stroke-width="0.8"/>
<line x1="809.88" y1="253.30" x2="809.88" y2="249.90" stroke="#888" stroke-width="0.8"/>
<line x1="823.05" y1="253.30" x2="823.05" y2="246.80" stroke="#000" stroke-width="1.4"/>
<text x="823.05" y="262.80" class="tl" text-anchor="middle">0.5</text>
<line x1="836.22" y1="253.30" x2="836.22" y2="249.90" stroke="#888" stroke-width="0.8"/>
<line x1="849.39" y1="253.30" x2="849.39" y2="249.90" stroke="#888" stroke-width="0.8"/>
<line x1="862.56" y1="253.30" x2="862.56" y2="249.90" stroke="#888" stroke-width="0.8"/>
<line x1="875.73" y1="253.30" x2="875.73" y2="249.90" stroke="#888" stroke-width="0.8"/>
<line x1="888.90" y1="253.30" x2="888.90" y2="246.80" stroke="#000" stroke-width="1.4"/>
<text x="888.90" y="262.80" class="tl" text-anchor="middle">1</text>
<line x1="902.07" y1="253.30" x2="902.07" y2="249.90" stroke="#888" stroke-width="0.8"/>
<line x1="915.24" y1="253.30" x2="915.24" y2="249.90" stroke="#888" stroke-width="0.8"/>
<line x1="928.41" y1="253.30" x2="928.41" y2="249.90" stroke="#888" stroke-width="0.8"/>
<line x1="941.58" y1="253.30" x2="941.58" y2="249.90" stroke="#888" stroke-width="0.8"/>
<line x1="954.75" y1="253.30" x2="954.75" y2="246.80" stroke="#000" stroke-width="1.4"/>
<text x="954.75" y="262.80" class="tl" text-anchor="middle">1.5</text>
<line x1="967.92" y1="253.30" x2="967.92" y2="249.90" stroke="#888" stroke-width="0.8"/>
<line x1="981.09" y1="253.30" x2="981.09" y2="249.90" stroke="#888" stroke-width="0.8"/>
<line x1="994.26" y1="253.30" x2="994.26" y2="249.90" stroke="#888" stroke-width="0.8"/>
<line x1="1007.43" y1="253.30" x2="1007.43" y2="249.90" stroke="#888" stroke-width="0.8"/>
<line x1="1018.00" y1="253.30" x2="1018.00" y2="246.80" stroke="#000" stroke-width="1.4"/>
<text x="1018.00" y="262.80" class="tl" text-anchor="middle">2</text>
<clipPath id="clipc"><rect x="759.50" y="17.50" width="258.50" height="235.80"/></clipPath>
<g clip-path="url(#clipc)" fill="none" stroke-linejoin="round">
<path d="M760.40,218.80 C760.65,222.38 761.43,234.87 761.90,240.30 C762.37,245.73 762.98,249.55 763.20,251.40 C763.90,251.23 765.82,250.67 767.40,250.40 C768.98,250.13 770.02,250.08 772.70,249.80 C775.38,249.52 778.12,249.05 783.50,248.70 C788.88,248.35 797.85,248.05 805.00,247.70 C812.15,247.35 819.23,246.93 826.40,246.60 C833.57,246.27 840.40,245.97 848.00,245.70 C855.60,245.43 865.40,245.18 872.00,245.00 C878.60,244.82 880.42,244.87 887.60,244.60 C894.78,244.33 908.03,243.72 915.10,243.40 C922.17,243.08 925.45,243.08 930.00,242.70 C934.55,242.32 939.07,241.58 942.40,241.10 C945.73,240.62 947.57,240.23 950.00,239.80 C952.43,239.37 954.07,239.15 957.00,238.50 C959.93,237.85 964.60,236.95 967.60,235.90 C970.60,234.85 972.62,233.28 975.00,232.20 C977.38,231.12 979.60,230.55 981.90,229.40 C984.20,228.25 986.50,226.90 988.80,225.30 C991.10,223.70 993.75,221.87 995.70,219.80 C997.65,217.73 999.20,215.28 1000.50,212.90 C1001.80,210.52 1002.65,208.48 1003.50,205.50 C1004.35,202.52 1004.97,198.75 1005.60,195.00 C1006.23,191.25 1006.73,187.13 1007.30,183.00 C1007.87,178.87 1008.50,174.30 1009.00,170.20 C1009.50,166.10 1009.93,161.77 1010.30,158.40 C1010.67,155.03 1010.87,153.57 1011.20,150.00 C1011.53,146.43 1011.95,142.00 1012.30,137.00 C1012.65,132.00 1012.92,126.17 1013.30,120.00 C1013.68,113.83 1014.23,105.33 1014.60,100.00 C1014.97,94.67 1015.17,93.67 1015.50,88.00 C1015.83,82.33 1016.28,74.33 1016.60,66.00 C1016.92,57.67 1017.27,42.67 1017.40,38.00" stroke="#f41818" stroke-width="1.80"/>
<path d="M760.50,215.00 C760.75,218.83 761.43,232.45 762.00,238.00 C762.57,243.55 763.58,246.58 763.90,248.30 C764.25,247.97 764.75,247.10 766.00,246.30 C767.25,245.50 769.48,244.42 771.40,243.50 C773.32,242.58 775.35,241.70 777.50,240.80 C779.65,239.90 782.05,238.92 784.30,238.10 C786.55,237.28 788.72,236.58 791.00,235.90 C793.28,235.22 794.78,234.68 798.00,234.00 C801.22,233.32 806.22,232.57 810.30,231.80 C814.38,231.03 818.42,230.12 822.50,229.40 C826.58,228.68 830.70,228.08 834.80,227.50 C838.90,226.92 843.23,226.28 847.10,225.90 C850.97,225.52 853.40,225.05 858.00,225.20 C862.60,225.35 869.47,226.08 874.70,226.80 C879.93,227.52 884.50,228.28 889.40,229.50 C894.30,230.72 899.82,232.65 904.10,234.10 C908.38,235.55 911.73,236.97 915.10,238.20 C918.47,239.43 921.53,240.65 924.30,241.50 C927.07,242.35 929.08,242.62 931.70,243.30 C934.32,243.98 937.78,245.08 940.00,245.60 C942.22,246.12 943.32,246.23 945.00,246.40 C946.68,246.57 948.63,246.72 950.10,246.60 C951.57,246.48 952.65,246.08 953.80,245.70 C954.95,245.32 955.85,244.83 957.00,244.30 C958.15,243.77 959.32,243.42 960.70,242.50 C962.08,241.58 963.68,240.18 965.30,238.80 C966.92,237.42 969.12,235.63 970.40,234.20 C971.68,232.77 971.70,232.07 973.00,230.20 C974.30,228.33 976.23,225.87 978.20,223.00 C980.17,220.13 982.60,216.58 984.80,213.00 C987.00,209.42 989.23,205.42 991.40,201.50 C993.57,197.58 996.03,193.02 997.80,189.50 C999.57,185.98 1000.78,184.17 1002.00,180.40 C1003.22,176.63 1004.30,170.85 1005.10,166.90 C1005.90,162.95 1006.30,159.52 1006.80,156.70 C1007.30,153.88 1007.63,153.12 1008.10,150.00 C1008.57,146.88 1009.13,141.83 1009.60,138.00 C1010.07,134.17 1010.52,130.33 1010.90,127.00 C1011.28,123.67 1011.55,121.50 1011.90,118.00 C1012.25,114.50 1012.60,110.67 1013.00,106.00 C1013.40,101.33 1013.85,96.67 1014.30,90.00 C1014.75,83.33 1015.20,75.00 1015.70,66.00 C1016.20,57.00 1017.03,41.00 1017.30,36.00" stroke="#2ad52e" stroke-width="1.80" stroke-dasharray="6.9 5.2"/>
<path d="M760.50,214.00 C760.75,217.83 761.52,231.50 762.00,237.00 C762.48,242.50 763.17,245.33 763.40,247.00 C763.75,246.58 764.33,245.35 765.50,244.50 C766.67,243.65 768.70,242.97 770.40,241.90 C772.10,240.83 773.92,239.18 775.70,238.10 C777.48,237.02 779.30,236.30 781.10,235.40 C782.90,234.50 784.70,233.50 786.50,232.70 C788.30,231.90 789.98,231.27 791.90,230.60 C793.82,229.93 794.93,229.73 798.00,228.70 C801.07,227.67 806.22,225.82 810.30,224.40 C814.38,222.98 818.42,221.42 822.50,220.20 C826.58,218.98 830.70,218.03 834.80,217.10 C838.90,216.17 843.23,215.12 847.10,214.60 C850.97,214.08 854.02,214.22 858.00,214.00 C861.98,213.78 867.00,213.25 871.00,213.30 C875.00,213.35 877.70,213.65 882.00,214.30 C886.30,214.95 891.88,215.88 896.80,217.20 C901.72,218.52 907.22,220.60 911.50,222.20 C915.78,223.80 919.13,225.27 922.50,226.80 C925.87,228.33 928.78,229.37 931.70,231.40 C934.62,233.43 938.00,237.23 940.00,239.00 C942.00,240.77 942.47,240.95 943.70,242.00 C944.93,243.05 946.33,244.37 947.40,245.30 C948.47,246.23 949.18,246.97 950.10,247.60 C951.02,248.23 951.93,248.80 952.90,249.10 C953.87,249.40 954.95,249.42 955.90,249.40 C956.85,249.38 957.70,249.22 958.60,249.00 C959.50,248.78 960.40,248.48 961.30,248.10 C962.20,247.72 963.10,247.23 964.00,246.70 C964.90,246.17 965.80,245.53 966.70,244.90 C967.60,244.27 968.52,243.62 969.40,242.90 C970.28,242.18 971.12,241.47 972.00,240.60 C972.88,239.73 973.80,238.78 974.70,237.70 C975.60,236.62 976.48,235.58 977.40,234.10 C978.32,232.62 979.22,230.73 980.20,228.80 C981.18,226.87 982.10,224.68 983.30,222.50 C984.50,220.32 986.03,217.98 987.40,215.70 C988.77,213.42 990.12,211.33 991.50,208.80 C992.88,206.27 994.62,203.00 995.70,200.50 C996.78,198.00 997.20,196.03 998.00,193.80 C998.80,191.57 999.65,189.90 1000.50,187.10 C1001.35,184.30 1002.33,180.37 1003.10,177.00 C1003.87,173.63 1004.48,170.28 1005.10,166.90 C1005.72,163.52 1006.30,159.52 1006.80,156.70 C1007.30,153.88 1007.63,153.12 1008.10,150.00 C1008.57,146.88 1009.13,141.83 1009.60,138.00 C1010.07,134.17 1010.52,130.33 1010.90,127.00 C1011.28,123.67 1011.55,121.50 1011.90,118.00 C1012.25,114.50 1012.60,110.67 1013.00,106.00 C1013.40,101.33 1013.85,96.67 1014.30,90.00 C1014.75,83.33 1015.20,75.00 1015.70,66.00 C1016.20,57.00 1017.03,41.00 1017.30,36.00" stroke="#2a2aff" stroke-width="1.90" stroke-dasharray="6.5 1.9 1.7 2.2"/>
<path d="M760.40,214.20 C760.65,217.78 761.47,230.47 761.90,235.70 C762.33,240.93 762.72,243.82 763.00,245.60 C763.28,247.38 763.50,246.27 763.60,246.40 C763.92,245.92 764.37,244.70 765.50,243.50 C766.63,242.30 768.70,240.55 770.40,239.20 C772.10,237.85 773.92,236.67 775.70,235.40 C777.48,234.13 779.30,232.77 781.10,231.60 C782.90,230.43 784.70,229.38 786.50,228.40 C788.30,227.42 789.98,226.57 791.90,225.70 C793.82,224.83 794.93,224.73 798.00,223.20 C801.07,221.67 806.22,218.53 810.30,216.50 C814.38,214.47 818.42,212.63 822.50,211.00 C826.58,209.37 830.70,208.03 834.80,206.70 C838.90,205.37 843.23,203.98 847.10,203.00 C850.97,202.02 855.07,201.27 858.00,200.80 C860.93,200.33 862.37,200.32 864.70,200.20 C867.03,200.08 869.53,200.12 872.00,200.10 C874.47,200.08 877.00,200.05 879.50,200.10 C882.00,200.15 884.55,200.27 887.00,200.40 C889.45,200.53 892.03,200.72 894.20,200.90 C896.37,201.08 898.28,201.27 900.00,201.50 C901.72,201.73 903.02,201.78 904.50,202.30 C905.98,202.82 907.18,203.25 908.90,204.60 C910.62,205.95 913.20,208.83 914.80,210.40 C916.40,211.97 917.40,213.08 918.50,214.00 C919.60,214.92 920.30,215.77 921.40,215.90 C922.50,216.03 923.92,215.30 925.10,214.80 C926.28,214.30 927.30,213.52 928.50,212.90 C929.70,212.28 931.07,211.10 932.30,211.10 C933.53,211.10 934.70,211.75 935.90,212.90 C937.10,214.05 938.42,216.18 939.50,218.00 C940.58,219.82 941.43,221.75 942.40,223.80 C943.37,225.85 944.33,228.15 945.30,230.30 C946.27,232.45 947.35,234.67 948.20,236.70 C949.05,238.73 949.68,240.82 950.40,242.50 C951.12,244.18 951.63,245.60 952.50,246.80 C953.37,248.00 954.50,249.07 955.60,249.70 C956.70,250.33 957.80,250.60 959.10,250.60 C960.40,250.60 961.78,250.30 963.40,249.70 C965.02,249.10 967.00,248.17 968.80,247.00 C970.60,245.83 972.58,244.30 974.20,242.70 C975.82,241.10 977.37,239.35 978.50,237.40 C979.63,235.45 980.20,233.48 981.00,231.00 C981.80,228.52 982.23,225.05 983.30,222.50 C984.37,219.95 986.03,217.98 987.40,215.70 C988.77,213.42 990.12,211.33 991.50,208.80 C992.88,206.27 994.62,203.00 995.70,200.50 C996.78,198.00 997.20,196.03 998.00,193.80 C998.80,191.57 999.65,189.90 1000.50,187.10 C1001.35,184.30 1002.33,180.37 1003.10,177.00 C1003.87,173.63 1004.48,170.28 1005.10,166.90 C1005.72,163.52 1006.30,159.52 1006.80,156.70 C1007.30,153.88 1007.63,153.12 1008.10,150.00 C1008.57,146.88 1009.13,141.83 1009.60,138.00 C1010.07,134.17 1010.52,130.33 1010.90,127.00 C1011.28,123.67 1011.55,121.50 1011.90,118.00 C1012.25,114.50 1012.60,110.67 1013.00,106.00 C1013.40,101.33 1013.85,96.67 1014.30,90.00 C1014.75,83.33 1015.20,75.00 1015.70,66.00 C1016.20,57.00 1017.03,41.00 1017.30,36.00" stroke="#ff9430" stroke-width="2.00" stroke-dasharray="6 1 1.3 1.3 1.3 1.4"/>
</g>
<rect x="759.50" y="17.50" width="258.50" height="235.80" fill="none" stroke="#000" stroke-width="1.5"/>
<line x1="773.80" y1="32.40" x2="816.30" y2="32.40" stroke="#f41818" stroke-width="1.80"/>
<text x="823.20" y="36.10" class="lg">&#916;&#966; = 0</text>
<text x="854.70" y="36.80" class="kv">kV</text>
<line x1="773.80" y1="48.10" x2="816.30" y2="48.10" stroke="#2ad52e" stroke-width="1.80" stroke-dasharray="6.9 5.2"/>
<text x="823.20" y="51.80" class="lg">&#916;&#966; = 4</text>
<text x="856.00" y="52.50" class="kv">kV</text>
<line x1="773.80" y1="63.70" x2="816.30" y2="63.70" stroke="#2a2aff" stroke-width="1.80" stroke-dasharray="6.5 1.9 1.7 2.2"/>
<text x="823.20" y="67.40" class="lg">&#916;&#966; = 6</text>
<text x="856.30" y="68.10" class="kv">kV</text>
<line x1="773.80" y1="79.30" x2="816.30" y2="79.30" stroke="#ff9430" stroke-width="1.80" stroke-dasharray="6 1 1.3 1.3 1.3 1.4"/>
<text x="823.20" y="80.70" class="lg">&#916;&#966; = 10</text>
<text x="856.80" y="81.40" class="kv">kV</text>
<text transform="translate(736.10,121.90) rotate(-90)" class="yl" text-anchor="middle">Nu<tspan class="sub" dy="3.6">loc</tspan></text>
<text transform="translate(889.65,276.9) scale(1.17,1)" class="xl" text-anchor="middle">X</text>
<g transform="translate(0,313.8) scale(1,1.100)">
<text x="793.70" y="0" class="cap">(<tspan font-weight="bold">c</tspan>)</text>
<text x="837.10" y="0" class="cap" font-style="italic">Re</text>
<text x="895.10" y="0" class="cap">6000</text>
</g>
<rect x="873.10" y="302.4" width="14.8" height="1.5" fill="#000"/>
<rect x="873.10" y="307.7" width="14.8" height="1.5" fill="#000"/>
</svg>
</body></html>
